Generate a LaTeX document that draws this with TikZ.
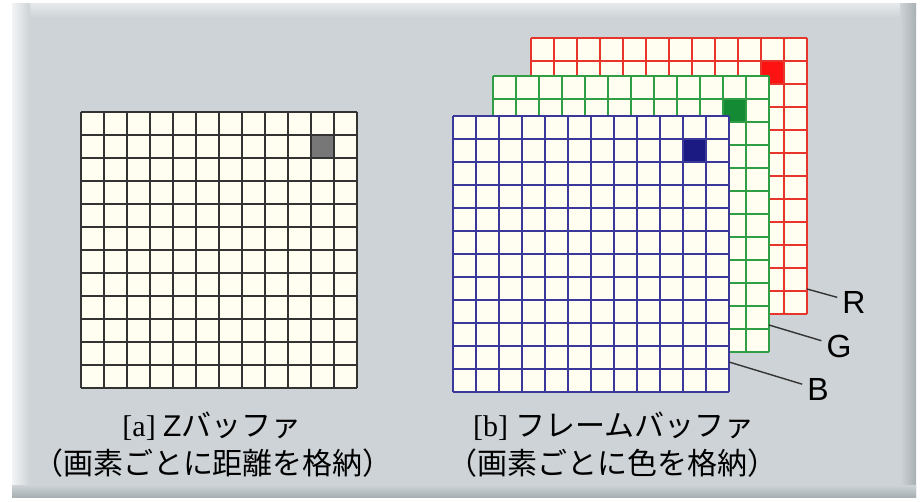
\documentclass[tikz,border=0pt]{standalone}
\usepackage{fontspec}
\setmainfont{Liberation Serif}
\setsansfont{Liberation Sans}
\newfontfamily\jpfont{Noto Sans CJK JP}
\definecolor{panel}{HTML}{CDD3D6}
\definecolor{panelhi}{HTML}{E4E8EA}
\definecolor{panelsh}{HTML}{A9B0B3}
\definecolor{cream}{HTML}{FFFEF0}
\definecolor{kline}{HTML}{333333}
\definecolor{bline}{HTML}{3A389A}
\definecolor{bcell}{HTML}{1B1A82}
\definecolor{gline}{HTML}{2F9E45}
\definecolor{gcell}{HTML}{158A34}
\definecolor{rline}{HTML}{E8352C}
\definecolor{rcell}{HTML}{FF1212}
\definecolor{kcell}{HTML}{777777}
\newcommand\pixgrid[5]{%
  \fill[cream] (#1,#2) rectangle ++(276,276);
  \fill[#4] (#1+230,#2+23) rectangle ++(23,23);
  \foreach \i in {0,...,12}{
    \draw[#3,line width=#5] (#1+23*\i,#2) -- ++(0,276);
    \draw[#3,line width=#5] (#1,#2+23*\i) -- ++(276,0);
  }
}
\tikzset{
  lbl/.style={font=\sffamily\fontsize{32}{36}\selectfont,inner sep=5pt},
  captext/.style={font=\fontsize{30}{36}\selectfont,inner sep=0pt},
  leader/.style={draw=black!80,line width=1.4pt}
}
\begin{document}
\begin{tikzpicture}[x=1pt,y=-1pt]
\useasboundingbox (0,0) rectangle (921,502);
% panel
\fill[panel] (12,4) rectangle (916,497);
\shade[top color=panelhi,bottom color=panel] (12,4) rectangle (916,18);
\shade[left color=white!75!panel,right color=panel] (12,4) rectangle (30,497);
\shade[left color=panel,right color=panelsh] (900,4) rectangle (916,497);
\shade[top color=panel,bottom color=panelsh] (12,485) rectangle (916,497);
% Z buffer
\pixgrid{81}{112}{kline}{kcell}{1.8pt}
% frame buffer R, G, B
\pixgrid{531}{38}{rline}{rcell}{1.3pt}
\pixgrid{493}{76}{gline}{gcell}{1.3pt}
\pixgrid{453}{116}{bline}{bcell}{1.3pt}
% labels
\node[lbl] (R) at (854,302) {R};
\node[lbl] (G) at (839,346) {G};
\node[lbl] (B) at (818,389) {B};
\coordinate (rA) at (807,289);
\coordinate (gA) at (769,325);
\coordinate (bA) at (729,362);
\draw[leader] (rA) -- (R);
\draw[leader] (gA) -- (G);
\draw[leader] (bA) -- (B);
% captions
\node[captext] (ca1) at (212,426) {[a] {\sffamily Z}{\jpfont バッファ}};
\node[captext] (ca2) at (213,463) {\jpfont （画素ごとに距離を格納）};
\node[captext] (cb1) at (614,426) {[b] {\jpfont フレームバッファ}};
\node[captext] (cb2) at (612,463) {\jpfont （画素ごとに色を格納）};
\end{tikzpicture}
\end{document}
